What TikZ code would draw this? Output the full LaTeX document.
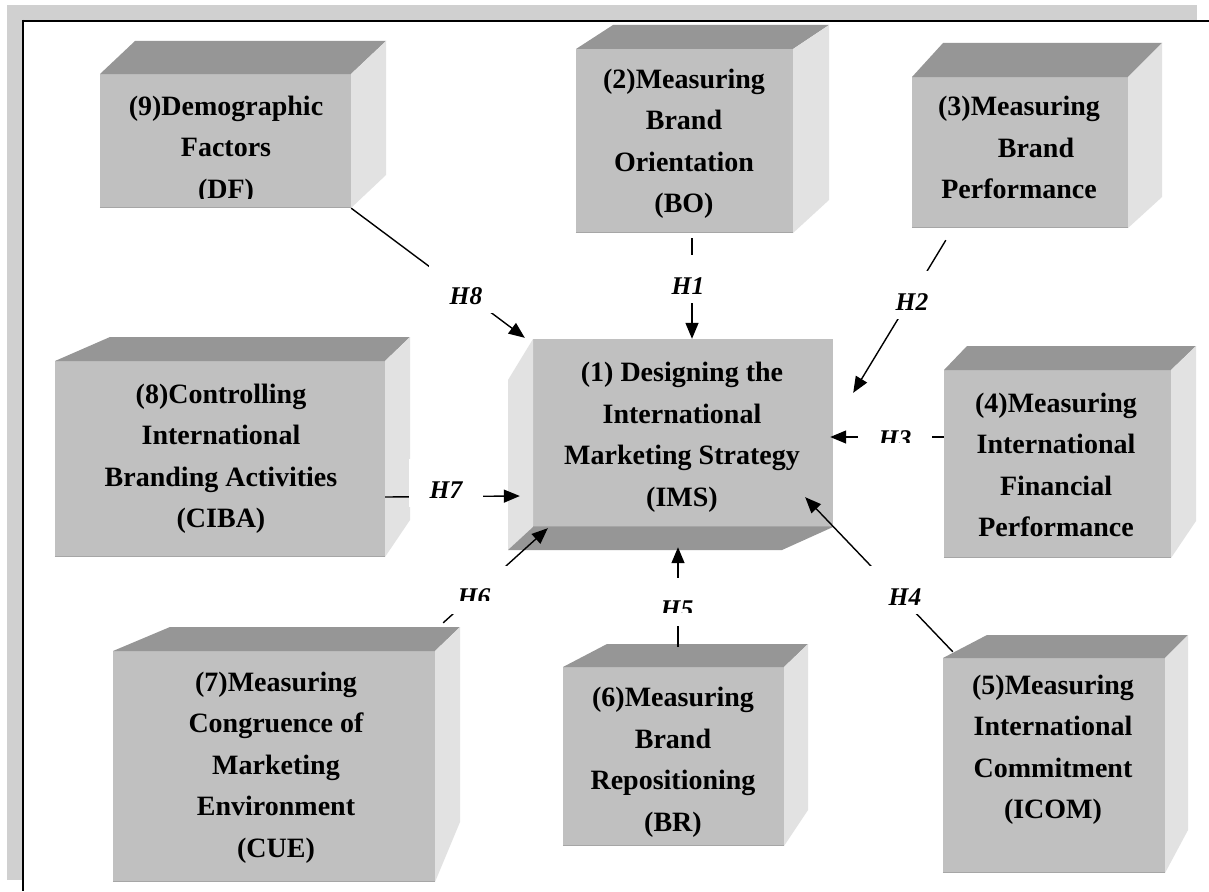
\documentclass[tikz,border=0pt]{standalone}
\usepackage{fontspec}
\setmainfont{Liberation Serif}
\usetikzlibrary{arrows.meta}
\definecolor{frontc}{HTML}{C0C0C0}
\definecolor{topc}{HTML}{969696}
\definecolor{sidec}{HTML}{E2E2E2}
\definecolor{edgec}{HTML}{A6A6A6}
\definecolor{bandc}{HTML}{D0D0D0}
\begin{document}
\begin{tikzpicture}[x=1pt,y=-1pt,
  front/.style={rectangle, fill=frontc, inner sep=0pt, draw=none},
  boxtext/.style={align=center, inner sep=0pt, font=\fontsize{28}{41.5}\selectfont\bfseries},
  hlab/.style={fill=white, anchor=base, inner xsep=21pt, inner ysep=2pt, text height=37pt, text depth=7pt, font=\fontsize{25.5}{28}\selectfont\bfseries\itshape},
  conn/.style={line width=1.4pt, -{Triangle[length=16pt,width=13pt]}},
  botedge/.style={draw=edgec, line width=1.5pt}
]
\useasboundingbox (0,0) rectangle (1209,891);
\fill[white] (0,0) rectangle (1209,891);
% frame
\fill[bandc] (7,5) rectangle (1197,20);
\fill[bandc] (7,5) rectangle (23,880);
\draw[line width=2pt] (22,21) -- (1209,21);
\draw[line width=2pt] (23,20) -- (23,891);

% (9) Demographic factors
\node[front, minimum width=251pt, minimum height=134pt] (b9) at (225.5,141) {};
\fill[topc] (100,74) -- (135,41) -- (386,41) -- (351,74) -- cycle;
\fill[sidec] (351,74) -- (386,41) -- (386,175) -- (351,208) -- cycle;

% (2) Brand orientation
\node[front, minimum width=217pt, minimum height=184pt] (b2) at (684.5,141) {};
\fill[topc] (576,49) -- (613,25) -- (829,25) -- (793,49) -- cycle;
\fill[sidec] (793,49) -- (829,25) -- (829,200) -- (793,233) -- cycle;

% (3) Brand performance
\node[front, minimum width=216pt, minimum height=151pt] (b3) at (1020,152.5) {};
\fill[topc] (912,77) -- (943,43) -- (1162,43) -- (1128,77) -- cycle;
\fill[sidec] (1128,77) -- (1162,43) -- (1162,197) -- (1128,228) -- cycle;

% (8) Controlling
\node[front, minimum width=330pt, minimum height=196pt] (b8) at (220,459) {};
\fill[topc] (55,361) -- (110,337) -- (410,337) -- (385,361) -- cycle;
\fill[sidec] (385,361) -- (410,337) -- (410,520) -- (385,557) -- cycle;

% (4) Financial performance
\node[front, minimum width=227pt, minimum height=188pt] (b4) at (1057.5,464) {};
\fill[topc] (944,370) -- (967,346) -- (1196,346) -- (1171,370) -- cycle;
\fill[sidec] (1171,370) -- (1196,346) -- (1196,521) -- (1171,558) -- cycle;

% (7) Congruence
\node[front, minimum width=322pt, minimum height=231pt] (b7) at (274,766.5) {};
\fill[topc] (113,651) -- (170,627) -- (460,627) -- (435,651) -- cycle;
\fill[sidec] (435,651) -- (460,627) -- (460,822) -- (435,882) -- cycle;

% (6) Repositioning
\node[front, minimum width=221pt, minimum height=179pt] (b6) at (673.5,756.5) {};
\fill[topc] (563,667) -- (607,644) -- (808,644) -- (784,667) -- cycle;
\fill[sidec] (784,667) -- (808,644) -- (808,810) -- (784,846) -- cycle;

% (5) Commitment
\node[front, minimum width=222pt, minimum height=215pt] (b5) at (1054,765.5) {};
\fill[topc] (943,658) -- (987,635) -- (1188,635) -- (1165,658) -- cycle;
\fill[sidec] (1165,658) -- (1188,635) -- (1188,830) -- (1165,873) -- cycle;

% (1) centre box
\node[front, minimum width=300pt, minimum height=188pt] (ims) at (683,433) {};
\fill[sidec] (533,339) -- (508,380) -- (508,550) -- (533,527) -- cycle;
\fill[topc] (533,527) -- (508,550) -- (782,550) -- (833,527) -- cycle;

\foreach \n in {b9,b2,b3,b8,b4,b7,b6,b5,ims}
  \draw[botedge] ([yshift=0.75pt]\n.south west) -- ([yshift=0.75pt]\n.south east);

% texts
\node[boxtext] (t9) at (226,150) {(9)Demographic\\Factors\\(DF)};
\fill[frontc] (115,199) rectangle (340,206.5);
\node[boxtext] (t2) at (684,144) {(2)Measuring\\Brand\\Orientation\\(BO)};
\node[boxtext] (t3) at (1019,147.5) {(3)Measuring\\\hspace*{34pt}Brand\\Performance};
\node[boxtext] (t8) at (221,459) {(8)Controlling\\International\\Branding Activities\\(CIBA)};
\node[boxtext] (t1) at (682,437.4) {(1) Designing the\\International\\Marketing Strategy\\(IMS)};
\node[boxtext] (t4) at (1056,465) {(4)Measuring\\International\\Financial\\Performance};
\node[boxtext] (t7) at (276,767.4) {(7)Measuring\\Congruence of\\Marketing\\Environment\\(CUE)};
\node[boxtext] (t6) at (673,762.4) {(6)Measuring\\Brand\\Repositioning\\(BR)};
\node[boxtext] (t5) at (1053,750) {(5)Measuring\\International\\Commitment\\(ICOM)};

% connectors
\draw[conn] (b9.south east) -- ([xshift=-8pt,yshift=1pt]ims.north west);
\draw[conn] ([xshift=7.5pt,yshift=-5pt]b2.south) -- ([xshift=9pt]ims.north);
\draw[conn] ([xshift=34pt,yshift=-12pt]b3.south west) -- ([xshift=20pt,yshift=-54pt]ims.north east);
\draw[conn] ([yshift=27pt]b4.west) -- ([xshift=-3pt,yshift=-4pt]ims.east);
\draw[conn] ([xshift=10pt,yshift=6pt]b5.north west) -- ([xshift=-28pt,yshift=30pt]ims.south east);
\draw[conn] ([xshift=4.5pt,yshift=20pt]b6.north) -- ([xshift=-5pt,yshift=-20pt]ims.south);
\draw[conn] ([xshift=8pt,yshift=28pt]b7.north east) -- ([xshift=15pt,yshift=-1pt]ims.south west);
\draw[conn] ([yshift=-38pt]b8.east) -- ([xshift=-13pt,yshift=-63pt]ims.west);

% labels
\node[hlab] (h1) at (688,294) {H1};
\node[hlab] (h2) at (912,310) {H2};
\node[hlab] (h3) at (895,447) {H3};
\fill[white] (872,443) rectangle (919,453);
\node[hlab] (h4) at (905,605) {H4};
\node[hlab] (h5) at (677,617) {H5};
\fill[white] (654,613) rectangle (701,623);
\node[hlab] (h6) at (474,605) {H6};
\fill[white] (451,601) rectangle (498,611);
\node[hlab] (h7) at (446,498) {H7};
\node[hlab] (h8) at (466,304) {H8};
\end{tikzpicture}
\end{document}
